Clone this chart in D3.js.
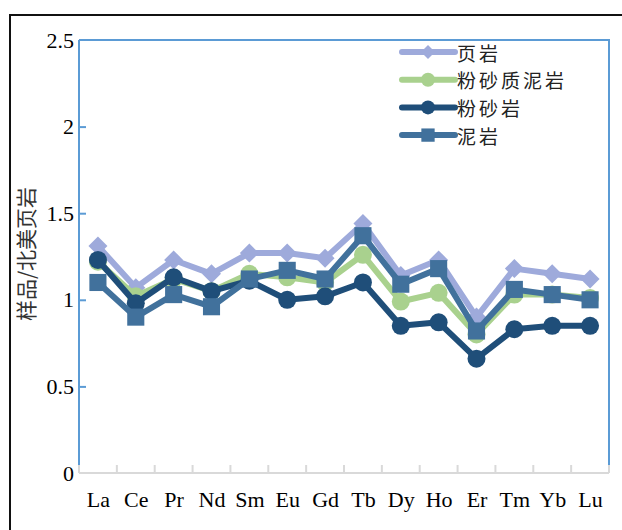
<!DOCTYPE html>
<html>
<head>
<meta charset="utf-8">
<script src="https://cdn.jsdelivr.net/npm/d3@7"></script>
<style>
  html, body { margin: 0; padding: 0; background: #fff; }
  svg { display: block; }
</style>
</head>
<body>
<svg id="chart" width="622" height="530"></svg>
<script>
// Rare-earth elements on the x axis
const elements = ["La", "Ce", "Pr", "Nd", "Sm", "Eu", "Gd", "Tb", "Dy", "Ho", "Er", "Tm", "Yb", "Lu"];

// Sample / NASC normalised values for each lithology
const shale          = [1.31, 1.07, 1.23, 1.15, 1.27, 1.27, 1.24, 1.44, 1.14, 1.23, 0.90, 1.18, 1.15, 1.12];
const siltyMudstone  = [1.22, 1.02, 1.12, 1.05, 1.15, 1.13, 1.10, 1.26, 0.99, 1.04, 0.80, 1.03, 1.03, 1.01];
const siltstone      = [1.23, 0.98, 1.13, 1.05, 1.11, 1.00, 1.02, 1.10, 0.85, 0.87, 0.66, 0.83, 0.85, 0.85];
const mudstone       = [1.10, 0.90, 1.03, 0.96, 1.12, 1.17, 1.12, 1.37, 1.09, 1.18, 0.82, 1.06, 1.03, 1.00];

const seriesNames = ["页岩", "粉砂质泥岩", "粉砂岩", "泥岩"];
const yTicks = [0, 0.5, 1, 1.5, 2, 2.5];
const yTitle = "样品/北美页岩";

const series = [
  { name: seriesNames[0], values: shale,         color: "#9eaadb", shape: "diamond" },
  { name: seriesNames[1], values: siltyMudstone, color: "#a9d18e", shape: "circle" },
  { name: seriesNames[2], values: siltstone,     color: "#1f4e79", shape: "circle" },
  { name: seriesNames[3], values: mudstone,      color: "#41719c", shape: "square" }
];

const svg = d3.select("#chart");
const plotLeft = 79, plotRight = 609, plotTop = 40, plotBottom = 473;

const x = d3.scalePoint().domain(elements).range([plotLeft, plotRight]).padding(0.5);
const band = d3.scaleBand().domain(elements).range([plotLeft, plotRight]);
const y = d3.scaleLinear().domain([0, 2.5]).range([plotBottom, plotTop]);

const serif = "'Liberation Serif', 'Times New Roman', serif";
const cjk = "'Noto Sans CJK SC', sans-serif";

// outer frame
svg.append("path")
  .attr("d", `M10,540 L10,15 L630,15`)
  .attr("fill", "none").attr("stroke", "#111").attr("stroke-width", 2);

// plot border (top and right in blue)
svg.append("path")
  .attr("d", `M${plotLeft},${plotTop} L${plotRight},${plotTop} L${plotRight},${plotBottom - 8}`)
  .attr("fill", "none").attr("stroke", "#5b9bd5").attr("stroke-width", 2);

// y axis
const yAxis = svg.append("g")
  .attr("transform", `translate(${plotLeft},0)`)
  .call(d3.axisLeft(y).tickValues(yTicks).tickSize(-7).tickPadding(5).tickFormat(d3.format("~g")));
yAxis.select(".domain").remove();
yAxis.selectAll(".tick line").attr("stroke", "#5b9bd5").attr("stroke-width", 2)
  .filter(d => d === 0 || d === 2.5).remove();
yAxis.append("line")
  .attr("x1", 0).attr("x2", 0).attr("y1", plotTop).attr("y2", plotBottom - 8)
  .attr("stroke", "#5b9bd5").attr("stroke-width", 2);
yAxis.selectAll("text")
  .attr("fill", "#000")
  .style("font-family", serif)
  .style("font-size", "22px");

// x axis
const xAxis = svg.append("g")
  .attr("transform", `translate(0,${plotBottom})`)
  .call(d3.axisBottom(x).tickSize(0).tickPadding(18));
xAxis.select(".domain").remove();
xAxis.selectAll("text")
  .attr("fill", "#000")
  .style("font-family", serif)
  .style("font-size", "22px");
xAxis.append("line")
  .attr("x1", plotLeft).attr("x2", plotRight).attr("y1", 0).attr("y2", 0)
  .attr("stroke", "#d9d9d9").attr("stroke-width", 2);
const boundaries = elements.map(e => band(e)).concat([band.range()[1]]);
xAxis.selectAll(".bound").data(boundaries).join("line")
  .attr("class", "bound")
  .attr("x1", d => d).attr("x2", d => d).attr("y1", 0).attr("y2", -8)
  .attr("stroke", "#d9d9d9").attr("stroke-width", 2);

// y title
svg.append("text")
  .attr("transform", `translate(25,254) rotate(-90)`)
  .attr("text-anchor", "middle").attr("dominant-baseline", "central")
  .style("font-family", cjk)
  .style("font-size", "21px").attr("fill", "#333")
  .text(yTitle);

function marker(g, shape, size) {
  if (shape === "diamond") {
    g.append("path").attr("d", `M0,${-size} L${size},0 L0,${size} L${-size},0 Z`);
  } else if (shape === "square") {
    g.append("rect").attr("x", -size * 0.95).attr("y", -size * 0.95)
      .attr("width", size * 1.9).attr("height", size * 1.9);
  } else {
    g.append("circle").attr("r", size);
  }
}

const line = d3.line().x((d, i) => x(elements[i])).y(d => y(d));

series.forEach(s => {
  const g = svg.append("g");
  g.append("path").datum(s.values)
    .attr("d", line).attr("fill", "none")
    .attr("stroke", s.color).attr("stroke-width", 6).attr("stroke-linejoin", "round");
  s.values.forEach((v, i) => {
    const m = g.append("g").attr("transform", `translate(${x(elements[i])},${y(v)})`)
      .attr("fill", s.color);
    marker(m, s.shape, s.shape === "diamond" ? 9.5 : 9);
  });
});

// legend
const legend = svg.append("g").attr("transform", "translate(402,52)");
series.forEach((s, i) => {
  const row = legend.append("g").attr("transform", `translate(0,${i * 27.7})`);
  row.append("line").attr("x1", 0).attr("x2", 53).attr("y1", 0).attr("y2", 0)
    .attr("stroke", s.color).attr("stroke-width", 6).attr("stroke-linecap", "round");
  const m = row.append("g").attr("transform", "translate(26,0)").attr("fill", s.color);
  marker(m, s.shape, 7);
  row.append("text").attr("x", 55).attr("y", 0).attr("dominant-baseline", "central")
    .style("font-family", cjk)
    .style("font-size", "19px").style("letter-spacing", "3px").attr("fill", "#222")
    .text(s.name);
});
</script>
</body>
</html>
